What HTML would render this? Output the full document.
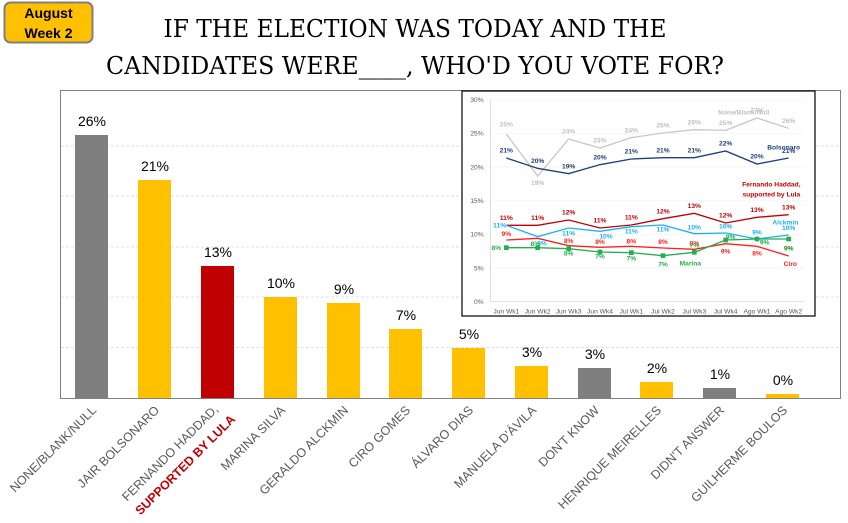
<!DOCTYPE html>
<html><head><meta charset="utf-8"><style>
body{margin:0;background:#fff;}
svg{display:block;font-family:"Liberation Sans",sans-serif;}
</style></head><body>
<svg width="848" height="523" viewBox="0 0 848 523" xmlns="http://www.w3.org/2000/svg">
<rect width="848" height="523" fill="#fff"/>
<rect x="4.5" y="2.5" width="88" height="40" rx="6" fill="#FFC000" stroke="#7f7f7f" stroke-width="2"/>
<text x="48.5" y="18" font-size="14" font-weight="bold" text-anchor="middle" fill="#000">August</text>
<text x="48.5" y="38" font-size="14" font-weight="bold" text-anchor="middle" fill="#000">Week 2</text>
<text x="415" y="37" font-family="'DejaVu Serif','Liberation Serif',serif" font-size="24" text-anchor="middle" textLength="503" lengthAdjust="spacingAndGlyphs" fill="#000">IF THE ELECTION WAS TODAY AND THE</text>
<text x="415" y="74" font-family="'DejaVu Serif','Liberation Serif',serif" font-size="24" text-anchor="middle" textLength="618" lengthAdjust="spacingAndGlyphs" fill="#000">CANDIDATES WERE____, WHO'D YOU VOTE FOR?</text>
<rect x="60.5" y="90.5" width="780" height="308" fill="none" stroke="#7f7f7f" stroke-width="1"/>
<g stroke="#e0e0e0" stroke-dasharray="3,2">
<line x1="61" x2="840" y1="347.5" y2="347.5"/><line x1="61" x2="840" y1="297" y2="297"/>
<line x1="61" x2="840" y1="247" y2="247"/><line x1="61" x2="840" y1="196" y2="196"/><line x1="61" x2="840" y1="146" y2="146"/>
</g>
<g>
<rect x="75" y="135" width="33" height="263" fill="#7f7f7f"/>
<rect x="138" y="180" width="33" height="218" fill="#FFC000"/>
<rect x="201" y="266" width="33" height="132" fill="#C00000"/>
<rect x="264" y="297" width="33" height="101" fill="#FFC000"/>
<rect x="327" y="303" width="33" height="95" fill="#FFC000"/>
<rect x="389" y="329" width="33" height="69" fill="#FFC000"/>
<rect x="452" y="348" width="33" height="50" fill="#FFC000"/>
<rect x="515" y="366" width="33" height="32" fill="#FFC000"/>
<rect x="578" y="368" width="33" height="30" fill="#7f7f7f"/>
<rect x="640" y="382" width="33" height="16" fill="#FFC000"/>
<rect x="703" y="388" width="33" height="10" fill="#7f7f7f"/>
<rect x="766" y="394" width="33" height="4" fill="#FFC000"/>
</g>
<g font-size="14" text-anchor="middle" fill="#000">
<text x="92" y="126">26%</text><text x="155" y="171">21%</text><text x="218" y="257">13%</text>
<text x="281" y="288">10%</text><text x="344" y="294">9%</text><text x="406" y="320">7%</text>
<text x="469" y="339">5%</text><text x="532" y="357">3%</text><text x="595" y="359">3%</text>
<text x="657" y="373">2%</text><text x="720" y="379">1%</text><text x="783" y="385">0%</text>
</g>
<g font-size="12.5" fill="#595959" text-anchor="end">
<text transform="translate(97,411) rotate(-45)">NONE/BLANK/NULL</text>
<text transform="translate(160,411) rotate(-45)">JAIR BOLSONARO</text>
<text transform="translate(219,410) rotate(-45)">FERNANDO HADDAD,</text>
<text transform="translate(236,420) rotate(-45)" fill="#C00000" font-weight="bold">SUPPORTED BY LULA</text>
<text transform="translate(286,411) rotate(-45)">MARINA SILVA</text>
<text transform="translate(349,411) rotate(-45)">GERALDO ALCKMIN</text>
<text transform="translate(411,411) rotate(-45)">CIRO GOMES</text>
<text transform="translate(474,411) rotate(-45)">ÁLVARO DIAS</text>
<text transform="translate(537,411) rotate(-45)">MANUELA D'ÁVILA</text>
<text transform="translate(600,411) rotate(-45)">DON'T KNOW</text>
<text transform="translate(662,411) rotate(-45)">HENRIQUE MEIRELLES</text>
<text transform="translate(725,411) rotate(-45)">DIDN'T ANSWER</text>
<text transform="translate(788,411) rotate(-45)">GUILHERME BOULOS</text>
</g>
<rect x="462" y="91" width="353" height="225" fill="#fff" stroke="#000" stroke-width="1.2"/>
<svg x="462" y="90" width="355" height="230" viewBox="0 0 1065 690">
<g stroke="#e6e6e6" stroke-width="2" stroke-dasharray="4,4">
<line x1="85" x2="1030" y1="130" y2="130"/><line x1="85" x2="1030" y1="231" y2="231"/><line x1="85" x2="1030" y1="332" y2="332"/>
<line x1="85" x2="1030" y1="433" y2="433"/><line x1="85" x2="1030" y1="534" y2="534"/><line x1="85" x2="1030" y1="29" y2="29"/>
</g>
<line x1="85" x2="1030" y1="635" y2="635" stroke="#d0d0d0" stroke-width="2"/>
<line x1="85" x2="85" y1="29" y2="635" stroke="#d0d0d0" stroke-width="2"/>
<g font-size="20" fill="#595959" text-anchor="end">
<text x="65" y="36">30%</text><text x="65" y="137">25%</text><text x="65" y="238">20%</text>
<text x="65" y="339">15%</text><text x="65" y="440">10%</text><text x="65" y="541">5%</text><text x="65" y="642">0%</text>
</g>
<g font-size="20" fill="#595959" text-anchor="middle">
<text x="133" y="670">Jun Wk1</text><text x="227" y="670">Jun Wk2</text><text x="320" y="670">Jun Wk3</text>
<text x="414" y="670">Jun Wk4</text><text x="508" y="670">Jul Wk1</text><text x="603" y="670">Jul Wk2</text>
<text x="697" y="670">Jul Wk3</text><text x="791" y="670">Jul Wk4</text><text x="885" y="670">Ago Wk1</text><text x="980" y="670">Ago Wk2</text>
</g>
<g fill="none" stroke-width="4">
<polyline stroke="#c8c8c8" points="133,132 227,258 320,147 414,174 508,143 603,129 697,119 791,121 885,84 980,115"/>
<polyline stroke="#1F3F7A" points="133,204 227,235 320,251 414,224 508,207 603,203 697,203 791,183 885,222 980,204"/>
<polyline stroke="#C00000" points="133,406 227,406 320,390 414,414 508,405 603,386 697,370 791,399 885,382 980,374"/>
<polyline stroke="#1FB0F0" points="133,406 227,440 320,414 414,424 508,410 603,405 697,431 791,429 885,447 980,435"/>
<polyline stroke="#FF1F1F" points="133,450 227,445 320,467 414,472 508,469 603,474 697,478 791,461 885,469 980,498"/>
<polyline stroke="#22B04C" points="133,473 227,473 320,476 414,486 508,488 603,497 697,487 791,450 885,447 980,447"/>
</g>
<g fill="#22B04C">
<rect x="126" y="466" width="14" height="14"/><rect x="220" y="466" width="14" height="14"/><rect x="313" y="469" width="14" height="14"/><rect x="407" y="479" width="14" height="14"/><rect x="501" y="481" width="14" height="14"/><rect x="596" y="490" width="14" height="14"/><rect x="690" y="480" width="14" height="14"/><rect x="784" y="443" width="14" height="14"/><rect x="878" y="440" width="14" height="14"/><rect x="973" y="440" width="14" height="14"/>
</g>
<g font-size="20" font-weight="bold" text-anchor="middle">
<g fill="#c0c0c0"><text x="133" y="110">25%</text><text x="227" y="285">19%</text><text x="320" y="131">24%</text><text x="414" y="158">23%</text><text x="508" y="127">24%</text><text x="603" y="113">25%</text><text x="697" y="103">26%</text><text x="791" y="105">25%</text><text x="885" y="68">27%</text><text x="980" y="99">26%</text><text x="845" y="74">None/Blank/Null</text></g>
<g fill="#1F3F7A"><text x="133" y="188">21%</text><text x="227" y="219">20%</text><text x="320" y="235">19%</text><text x="414" y="208">20%</text><text x="508" y="191">21%</text><text x="603" y="187">21%</text><text x="697" y="187">21%</text><text x="791" y="167">22%</text><text x="885" y="206">20%</text><text x="980" y="189">21%</text><text x="965" y="179">Bolsonaro</text></g>
<g fill="#C00000"><text x="133" y="390">11%</text><text x="227" y="390">11%</text><text x="320" y="374">12%</text><text x="414" y="398">11%</text><text x="508" y="389">11%</text><text x="603" y="370">12%</text><text x="697" y="354">13%</text><text x="791" y="383">12%</text><text x="885" y="366">13%</text><text x="980" y="358">13%</text><text x="928" y="290">Fernando Haddad,</text><text x="928" y="319">supported by Lula</text></g>
<g fill="#1FB0F0"><text x="113" y="413">11%</text><text x="240" y="466">9%</text><text x="320" y="436">11%</text><text x="432" y="445">10%</text><text x="508" y="430">11%</text><text x="603" y="425">11%</text><text x="697" y="418">10%</text><text x="791" y="416">10%</text><text x="885" y="434">9%</text><text x="980" y="420">10%</text><text x="970" y="403">Alckmin</text></g>
<g fill="#FF1F1F"><text x="133" y="438">9%</text><text x="320" y="459">8%</text><text x="414" y="462">8%</text><text x="508" y="460">8%</text><text x="603" y="462">8%</text><text x="697" y="466">8%</text><text x="791" y="490">9%</text><text x="885" y="496">8%</text><text x="980" y="482">9%</text><text x="985" y="528">Ciro</text></g>
<g fill="#22B04C"><text x="103" y="480">8%</text><text x="220" y="468">8%</text><text x="320" y="497">8%</text><text x="414" y="505">7%</text><text x="508" y="512">7%</text><text x="603" y="530">7%</text><text x="697" y="473">7%</text><text x="806" y="447">9%</text><text x="908" y="464">9%</text><text x="980" y="481">9%</text><text x="685" y="526">Marina</text></g>
</g>
</svg>
</svg>
</body></html>
